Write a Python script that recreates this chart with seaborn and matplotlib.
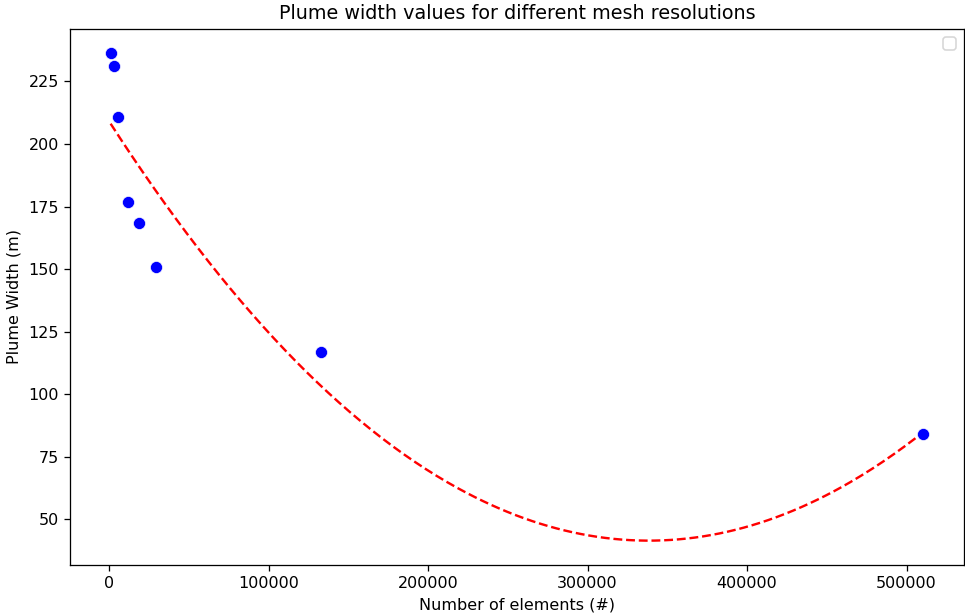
import numpy as np
import pandas as pd
import matplotlib
matplotlib.use("Agg")
import matplotlib.pyplot as plt
import seaborn as sns

# Data
num_elements = [1000, 3300, 5500, 12000, 19000, 29500, 133000, 510500]
plume_width = [236.2, 231.2, 210.7, 176.7, 168.4, 150.8, 116.9, 84.1]

title = "Plume width values for different mesh resolutions"
xlabel = "Number of elements (#)"
ylabel = "Plume Width (m)"

df = pd.DataFrame({"elements": num_elements, "width": plume_width})

# quadratic fit of the data
coef = np.polyfit(df["elements"], df["width"], 2)
x_fit = np.linspace(min(num_elements), max(num_elements), 300)
y_fit = np.polyval(coef, x_fit)
fit_df = pd.DataFrame({"elements": x_fit, "width": y_fit})

DPI = 115
fig = plt.figure(figsize=(965 / DPI, 614 / DPI), dpi=DPI)
ax = fig.add_axes([70 / 965, (614 - 565) / 614, (964 - 70) / 965, (565 - 29) / 614])

sns.scatterplot(data=df, x="elements", y="width", color="blue", s=57,
                edgecolor="white", linewidth=0.4, ax=ax, zorder=3)
sns.lineplot(data=fit_df, x="elements", y="width", color="red",
             linestyle="--", linewidth=1.5, ax=ax, zorder=2)

ax.set_title(title, fontsize=12)
ax.set_xlabel(xlabel)
ax.set_ylabel(ylabel)
ax.legend(handles=[], loc="upper right")

fig.savefig("out.png", dpi=DPI)
